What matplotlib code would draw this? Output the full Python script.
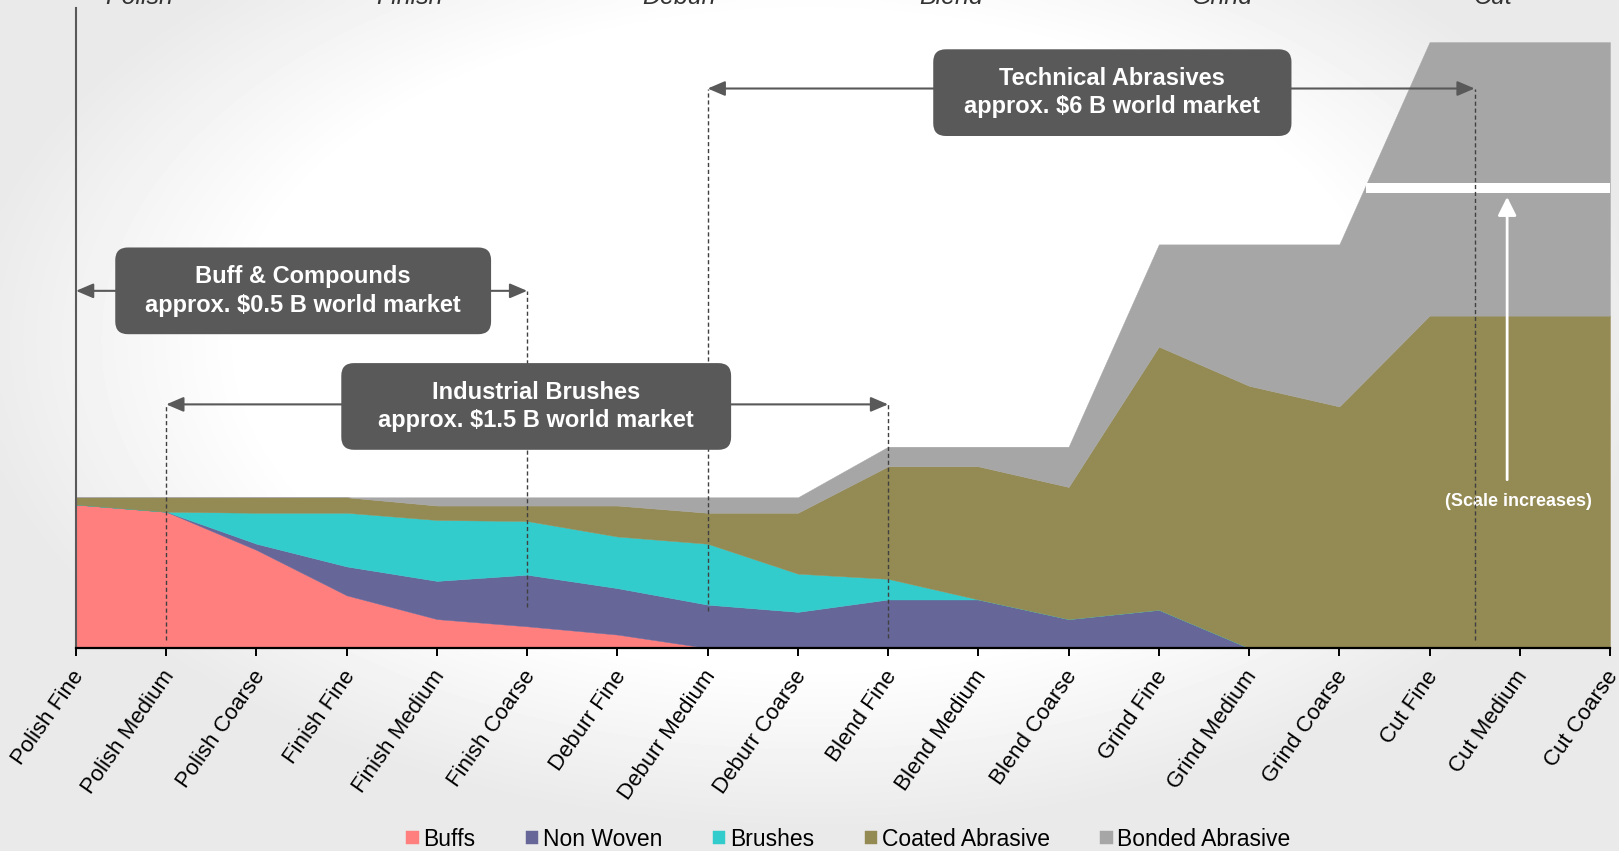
import numpy as np
import matplotlib.pyplot as plt
import matplotlib.transforms as mtransforms
from matplotlib.patches import FancyBboxPatch

plt.rcParams['font.family'] = ['Liberation Sans', 'DejaVu Sans']

# process steps, fine -> coarse
categories = ['Polish Fine', 'Polish Medium', 'Polish Coarse',
              'Finish Fine', 'Finish Medium', 'Finish Coarse',
              'Deburr Fine', 'Deburr Medium', 'Deburr Coarse',
              'Blend Fine', 'Blend Medium', 'Blend Coarse',
              'Grind Fine', 'Grind Medium', 'Grind Coarse',
              'Cut Fine', 'Cut Medium', 'Cut Coarse']
groups = ['Polish', 'Finish', 'Deburr', 'Blend', 'Grind', 'Cut']

# relative market size per product family (stacked)
buffs     = [139, 132, 95, 51, 28, 21, 13, 0, 0, 0, 0, 0, 0, 0, 0, 0, 0, 0]
non_woven = [0, 0, 6, 28, 37, 50, 45, 42, 35, 47, 47, 28, 37, 0, 0, 0, 0, 0]
brushes   = [0, 0, 30, 52, 59, 52, 50, 59, 37, 20, 0, 0, 0, 0, 0, 0, 0, 0]
coated    = [7, 14, 15, 15, 14, 15, 30, 30, 59, 109, 129, 128, 255, 254, 234, 322, 322, 322]
bonded    = [0, 0, 0, 0, 8, 8, 8, 15, 15, 19, 19, 39, 99, 137, 157, 265, 265, 265]

series_names = ['Buffs', 'Non Woven', 'Brushes', 'Coated Abrasive', 'Bonded Abrasive']
colors = ['#FF7F7F', '#666699', '#33CCCC', '#948A54', '#A6A6A6']

# market segments: text, start, end, arrow height
segments = [
    ('Buff & Compounds\napprox. $0.5 B world market', 0, 5, 346),
    ('Industrial Brushes\napprox. $1.5 B world market', 1, 9, 236),
    ('Technical Abrasives\napprox. $6 B world market', 7, 15.5, 542),
]
# label boxes (x0, x1, y0, y1) in data units
boxes = [(0.435, 4.60, 304, 388), (2.94, 7.26, 192, 276), (9.50, 13.47, 496, 580)]
# how far each dashed guide drops
guide_bottoms = {1: 8, 5: 40, 7: 36, 9: 10, 15.5: 8}

x = np.arange(len(categories))
W, H = 1619, 851
fig = plt.figure(figsize=(W / 100, H / 100), dpi=100)

# soft radial background
bg = fig.add_axes([0, 0, 1, 1], zorder=-10)
gx, gy = np.meshgrid(np.linspace(-1, 1, 400), np.linspace(-1, 1, 220))
r = np.sqrt(gx ** 2 + ((gy - 0.2) / 1.1) ** 2)
shade = 1 - 0.085 * np.clip((r - 0.7) / 0.35, 0, 1)
bg.imshow(shade, extent=[0, 1, 0, 1], aspect='auto', cmap='gray', vmin=0, vmax=1,
          origin='lower', interpolation='bicubic')
bg.axis('off')

ax = fig.add_axes([76 / W, (H - 648) / H, (1610 - 76) / W, (648 - 8) / H])
ax.set_facecolor('none')
ax.set_xlim(0, 17)
ax.set_ylim(0, 620)

polys = ax.stackplot(x, buffs, non_woven, brushes, coated, bonded,
                     colors=colors, labels=series_names, lw=0.3)
for p, c in zip(polys, colors):
    p.set_edgecolor(c)

# scale break on the right
ax.fill_between([14.3, 17], 441, 450, color='white', lw=0, zorder=3)
ax.annotate('', xy=(15.86, 437), xytext=(15.86, 163),
            arrowprops=dict(arrowstyle='-|>,head_length=0.8,head_width=0.4',
                            color='white', lw=2, mutation_scale=14,
                            shrinkA=0, shrinkB=0), zorder=4)
ax.text(15.98, 142, '(Scale increases)', color='white', fontweight='bold',
        fontsize=13, ha='center', va='center', zorder=4)

# dashed guides
for gxp, bottom in guide_bottoms.items():
    top = max(s[3] for s in segments if gxp in (s[1], s[2]))
    ax.plot([gxp, gxp], [bottom, top], color='#404040', lw=1, ls=(0, (3, 2)),
            zorder=5)

# segment arrows and boxes
for (txt, x0, x1, y), (bx0, bx1, by0, by1) in zip(segments, boxes):
    ax.annotate('', xy=(x1, y), xytext=(x0, y),
                arrowprops=dict(arrowstyle='<|-|>,head_length=0.75,head_width=0.32',
                                color='#595959', lw=1.5, mutation_scale=14,
                                shrinkA=0, shrinkB=0), zorder=6)
    box = FancyBboxPatch((bx0, by0), bx1 - bx0, by1 - by0,
                         boxstyle='round,pad=0,rounding_size=0.14',
                         mutation_aspect=87.4, fc='#595959', ec='none',
                         zorder=7)
    ax.add_patch(box)
    ax.text((bx0 + bx1) / 2, (by0 + by1) / 2, txt, color='white',
            fontweight='bold', fontsize=17, ha='center', va='center',
            linespacing=1.3, zorder=8)

# axes styling
for side in ['top', 'right']:
    ax.spines[side].set_visible(False)
ax.spines['left'].set_color('#595959')
ax.spines['left'].set_linewidth(1.5)
ax.spines['bottom'].set_color('black')
ax.spines['bottom'].set_linewidth(1.6)
ax.set_yticks([])
ax.set_xticks(x)
ax.set_xticklabels(categories, rotation=55, ha='right', va='center',
                   rotation_mode='anchor', fontsize=16)
ax.tick_params(axis='x', length=6, width=1.4, color='black', pad=8)
shift = mtransforms.ScaledTranslation(0.04, -0.05, fig.dpi_scale_trans)
for lbl in ax.get_xticklabels():
    lbl.set_transform(lbl.get_transform() + shift)

# group headings along the top edge
trans = mtransforms.blended_transform_factory(ax.transData, fig.transFigure)
for i, g in enumerate(groups):
    ax.text(3 * i + 0.7, 1 - 4 / H, g, transform=trans, ha='center',
            va='baseline', style='italic', fontsize=18, color='#333333',
            clip_on=False)

fig.legend(*ax.get_legend_handles_labels(), loc='center',
           bbox_to_anchor=(0.524, 0.014), ncol=5, frameon=False, fontsize=16.5,
           handlelength=0.55, handleheight=0.55, handletextpad=0.2,
           columnspacing=2.2)

fig.savefig('out.png', dpi=100)
